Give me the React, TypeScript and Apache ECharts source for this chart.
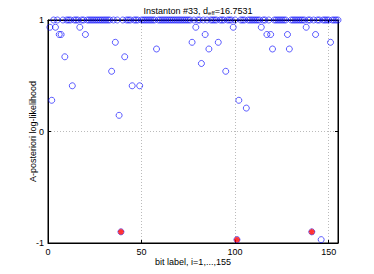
import React, { useEffect, useRef } from "react";
import * as echarts from "echarts";

const titleMain = "Instanton #33, d";
const titleSub = "eff";
const titleTail = "=16.7531";
const xLabel = "bit label, i=1,...,155";
const yLabel = "A-posteriori log-likelihood";

// log-likelihood per bit, i = 1..155
const llValues = [
  0.935, 0.28, 1, 0.935, 1, 0.87, 0.87, 1, 0.67, 1,
  1, 1, 0.41, 1, 1, 1, 0.935, 1, 1, 0.87,
  1, 1, 1, 1, 1, 1, 1, 1, 1, 1,
  1, 1, 1, 0.54, 1, 0.8, 1, 0.145, -0.9, 1,
  0.67, 1, 1, 1, 0.41, 1, 1, 1, 0.41, 1,
  1, 1, 1, 1, 1, 1, 1, 0.74, 1, 1,
  1, 1, 1, 1, 1, 1, 1, 1, 1, 1,
  1, 1, 1, 1, 1, 1, 0.8, 1, 0.935, 1,
  1, 0.61, 1, 0.87, 1, 0.74, 1, 1, 1, 1,
  0.8, 1, 1, 1, 0.54, 1, 1, 1, 0.935, 1,
  -0.97, 0.28, 1, 1, 1, 0.21, 1, 1, 1, 1,
  1, 1, 1, 0.935, 1, 1, 0.87, 1, 0.87, 0.74,
  1, 1, 1, 1, 1, 1, 1, 0.87, 0.74, 1,
  1, 1, 1, 1, 1, 1, 1, 0.935, 1, 1,
  -0.9, 1, 0.87, 1, 1, -0.97, 1, 1, 1, 1,
  0.8, 1, 1, 1, 1,
];

const starX = [39, 101, 141];
const starY = [-0.9, -0.97, -0.9];

const xTicks = [0, 50, 100, 150];
const yTicks = [-1, 0, 1];

const FONT = "'Liberation Sans', Helvetica, Arial, sans-serif";

export default function App() {
  const ref = useRef<HTMLDivElement>(null);
  useEffect(() => {
    if (!ref.current) return;
    const chart = echarts.init(ref.current, null, { renderer: "svg" });
    const circleData = llValues.map((v, i) => [i + 1, v]);
    const starData = starX.map((x, i) => [x, starY[i]]);
    const asterisk =
      "path://M5,0L5,10M0,5L10,5M1.5,1.5L8.5,8.5M1.5,8.5L8.5,1.5";
    const tickStyle = { show: true, inside: true, length: 3, lineStyle: { color: "#000" } };
    chart.setOption({
      animation: false,
      backgroundColor: "#fff",
      textStyle: { fontFamily: FONT },
      title: {
        text: `{a|${titleMain}}{s|${titleSub}}{a|${titleTail}}`,
        left: 193,
        textAlign: "center",
        top: 0,
        textStyle: {
          fontWeight: "normal",
          rich: {
            a: { fontSize: 9, color: "#000", fontFamily: FONT, fontWeight: "normal" },
            s: { fontSize: 6, color: "#000", fontFamily: FONT, fontWeight: "normal", padding: [5, 0, 0, 0] },
          },
        },
      },
      grid: {
        left: 48,
        right: 36,
        top: 20,
        bottom: 31,
        show: true,
        borderColor: "#000",
        borderWidth: 1,
        backgroundColor: "transparent",
      },
      xAxis: [
        {
          type: "value",
          min: 0,
          max: 155,
          interval: 50,
          name: xLabel,
          nameLocation: "middle",
          nameGap: 14,
          nameMoveOverlap: false,
          nameTextStyle: { fontSize: 9, color: "#000", fontFamily: FONT },
          axisLine: { show: true, onZero: false, lineStyle: { color: "#000", width: 1 } },
          axisTick: tickStyle,
          axisLabel: {
            fontSize: 9,
            color: "#000",
            margin: 4,
            fontFamily: FONT,
            showMaxLabel: false,
            formatter: (v: number) => (xTicks.includes(v) ? String(v) : ""),
          },
          splitLine: { show: true, lineStyle: { color: "#bbb", type: [1, 2], width: 1 } },
        },
        {
          type: "value",
          position: "top",
          min: 0,
          max: 155,
          interval: 50,
          axisLine: { show: true, onZero: false, lineStyle: { color: "#000" } },
          axisTick: tickStyle,
          axisLabel: { show: false },
          splitLine: { show: false },
        },
      ],
      yAxis: [
        {
          type: "value",
          min: -1,
          max: 1,
          interval: 1,
          name: yLabel,
          nameLocation: "middle",
          nameGap: 11,
          nameMoveOverlap: false,
          nameTextStyle: { fontSize: 9, color: "#000", fontFamily: FONT },
          axisLine: { show: true, onZero: false, lineStyle: { color: "#000", width: 1 } },
          axisTick: tickStyle,
          axisLabel: {
            fontSize: 9,
            color: "#000",
            margin: 4,
            fontFamily: FONT,
            formatter: (v: number) => (yTicks.includes(v) ? String(v) : ""),
          },
          splitLine: { show: true, lineStyle: { color: "#bbb", type: [1, 2], width: 1 } },
        },
        {
          type: "value",
          position: "right",
          min: -1,
          max: 1,
          interval: 1,
          axisLine: { show: true, onZero: false, lineStyle: { color: "#000" } },
          axisTick: tickStyle,
          axisLabel: { show: false },
          splitLine: { show: false },
        },
      ],
      series: [
        {
          type: "scatter",
          data: circleData,
          symbol: "circle",
          symbolSize: 6,
          itemStyle: { color: "rgba(0,0,0,0)", borderColor: "#0000ff", borderWidth: 0.8 },
          silent: true,
        },
        {
          type: "scatter",
          data: starData,
          symbol: asterisk,
          symbolSize: 6,
          itemStyle: { color: "rgba(0,0,0,0)", borderColor: "#ff0000", borderWidth: 1.5 },
          silent: true,
          z: 3,
        },
      ],
    });
    return () => chart.dispose();
  }, []);
  return (
    <div
      ref={ref}
      style={{ position: "fixed", left: 0, top: 0, width: 374, height: 274 }}
    />
  );
}
